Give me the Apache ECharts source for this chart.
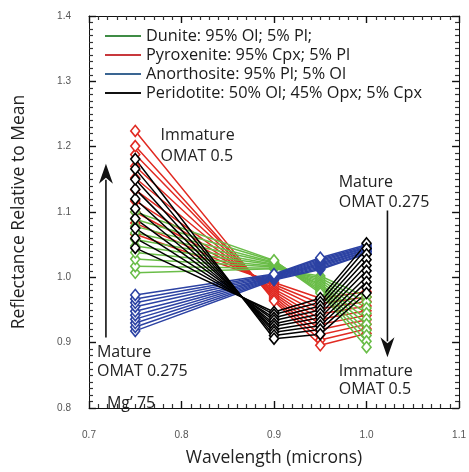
<!DOCTYPE html>
<html>
<head>
<meta charset="utf-8">
<script src="https://cdn.jsdelivr.net/npm/echarts@6/dist/echarts.min.js"></script>
<style>html,body{margin:0;padding:0;background:#fff}#c{width:469px;height:472px}</style>
</head>
<body>
<div id="c"></div>
<script>
// Wavelengths (microns) at which reflectance is sampled
var wavelengths = [0.75, 0.9, 0.95, 1.0];
// OMAT levels, mature -> immature (one line per level)
var omatLevels = [0.275, 0.3, 0.325, 0.35, 0.375, 0.4, 0.425, 0.45, 0.475, 0.5];
var xTicks = [0.7, 0.8, 0.9, 1.0, 1.1];
var yTicks = [0.8, 0.9, 1.0, 1.1, 1.2, 1.3, 1.4];
var minorPerMajor = 10;

var rockNames = [
  'Dunite: 95% Ol; 5% Pl;',
  'Pyroxenite: 95% Cpx; 5% Pl',
  'Anorthosite: 95% Pl; 5% Ol',
  'Peridotite: 50% Ol; 45% Opx; 5% Cpx'
];

// Reflectance relative to mean, rows follow omatLevels, columns follow wavelengths
var dunite = [
  [1.007, 1.013, 1.002, 0.970],
  [1.017, 1.014, 0.999, 0.962],
  [1.028, 1.016, 0.996, 0.953],
  [1.038, 1.017, 0.993, 0.945],
  [1.048, 1.019, 0.990, 0.936],
  [1.058, 1.020, 0.988, 0.928],
  [1.068, 1.022, 0.985, 0.919],
  [1.078, 1.023, 0.982, 0.911],
  [1.089, 1.025, 0.979, 0.902],
  [1.100, 1.026, 0.976, 0.893]
];
var pyroxenite = [
  [1.066, 0.992, 0.968, 0.978],
  [1.083, 0.989, 0.960, 0.970],
  [1.100, 0.986, 0.952, 0.963],
  [1.117, 0.982, 0.944, 0.956],
  [1.134, 0.979, 0.936, 0.949],
  [1.152, 0.976, 0.928, 0.942],
  [1.170, 0.973, 0.920, 0.935],
  [1.188, 0.970, 0.912, 0.928],
  [1.201, 0.967, 0.904, 0.921],
  [1.224, 0.964, 0.896, 0.914]
];
var anorthosite = [
  [0.918, 0.996, 1.012, 1.036],
  [0.924, 0.997, 1.014, 1.037],
  [0.930, 0.998, 1.016, 1.039],
  [0.936, 0.999, 1.018, 1.040],
  [0.942, 1.000, 1.020, 1.042],
  [0.948, 1.001, 1.022, 1.043],
  [0.955, 1.002, 1.024, 1.045],
  [0.961, 1.003, 1.026, 1.046],
  [0.967, 1.004, 1.028, 1.048],
  [0.973, 1.005, 1.030, 1.050]
];
var peridotite = [
  [1.045, 0.947, 0.968, 1.052],
  [1.060, 0.943, 0.962, 1.044],
  [1.075, 0.938, 0.956, 1.035],
  [1.090, 0.934, 0.950, 1.027],
  [1.105, 0.929, 0.944, 1.018],
  [1.120, 0.925, 0.938, 1.010],
  [1.135, 0.920, 0.932, 1.001],
  [1.150, 0.916, 0.926, 0.993],
  [1.166, 0.911, 0.920, 0.984],
  [1.181, 0.906, 0.913, 0.976]
];

// Annotation texts and their anchor positions in data units
var notes = [
  {text: 'Immature', x: 0.7774, y: 1.2178},
  {text: 'OMAT 0.5', x: 0.7774, y: 1.1844},
  {text: 'Mature', x: 0.9699, y: 1.1449},
  {text: 'OMAT 0.275', x: 0.9699, y: 1.1145},
  {text: 'Mature', x: 0.7086, y: 0.8851},
  {text: 'OMAT 0.275', x: 0.7086, y: 0.8563},
  {text: 'Mg\u2019 75', x: 0.7194, y: 0.8070},
  {text: 'Immature', x: 0.9699, y: 0.8563},
  {text: 'OMAT 0.5', x: 0.9699, y: 0.8289}
];
var arrows = [
  {x: 0.7183, from: 0.9078, to: 1.1737},
  {x: 1.0226, from: 1.1023, to: 0.8775}
];

var lineColors = ['#6abd48', '#e12a22', '#2c42a3', '#000000'];
var legendColors = ['#3f8c45', '#c8383c', '#3a6592', '#111111'];

var chart = echarts.init(document.getElementById('c'));

function buildSeries(name, rows, color) {
  return rows.map(function (row) {
    return {
      name: name,
      type: 'line',
      data: row.map(function (v, i) { return [wavelengths[i], v]; }),
      symbol: 'diamond',
      symbolSize: [9, 11],
      showSymbol: true,
      lineStyle: {color: color, width: 1.5},
      itemStyle: {color: '#ffffff', borderColor: color, borderWidth: 1.6},
      emphasis: {disabled: true},
      silent: true,
      animation: false
    };
  });
}

var series = [].concat(
  buildSeries(rockNames[1], pyroxenite, lineColors[1]),
  buildSeries(rockNames[0], dunite, lineColors[0]),
  buildSeries(rockNames[2], anorthosite, lineColors[2]),
  buildSeries(rockNames[3], peridotite, lineColors[3])
);

var fontMain = '"Open Sans", "Noto Sans", sans-serif';
var tickFontFamily = '"Liberation Sans", Arial, sans-serif';

function makeAxis(pos, lo, hi, extra) {
  var ax = {
    type: 'value',
    position: pos,
    min: lo,
    max: hi,
    interval: 0.1,
    axisLine: {show: true, onZero: false, lineStyle: {color: '#111', width: 1}},
    axisTick: {show: true, inside: true, length: 7, lineStyle: {color: '#111', width: 1.4}},
    minorTick: {show: true, splitNumber: minorPerMajor, length: 4, lineStyle: {color: '#333', width: 1.2}},
    splitLine: {show: false}
  };
  for (var k in extra) ax[k] = extra[k];
  return ax;
}

var fmt = function (v) { return v.toFixed(1); };

chart.setOption({
  animation: false,
  grid: {left: 89, right: 8, top: 16, bottom: 61},
  legend: {
    orient: 'vertical',
    left: 100,
    top: 23,
    icon: 'rect',
    itemWidth: 36,
    itemHeight: 2,
    itemGap: 3,
    selectedMode: false,
    textStyle: {fontFamily: fontMain, fontSize: 16.3, color: '#1a1a1a'},
    data: rockNames.map(function (n, i) {
      return {name: n, itemStyle: {color: legendColors[i], borderWidth: 0}};
    })
  },
  xAxis: [
    makeAxis('bottom', xTicks[0], xTicks[xTicks.length - 1], {
      name: 'Wavelength (microns)', nameLocation: 'middle', nameGap: 41,
      nameTextStyle: {fontFamily: fontMain, fontSize: 17.5, color: '#222'},
      axisLabel: {show: true, margin: 22, formatter: fmt, fontFamily: tickFontFamily, fontSize: 10, color: '#555'}
    }),
    makeAxis('top', xTicks[0], xTicks[xTicks.length - 1], {axisLabel: {show: false}})
  ],
  yAxis: [
    makeAxis('left', yTicks[0], yTicks[yTicks.length - 1], {
      name: 'Reflectance Relative to Mean', nameLocation: 'middle', nameGap: 61,
      nameTextStyle: {fontFamily: fontMain, fontSize: 17.5, color: '#222'},
      axisLabel: {show: true, margin: 18, formatter: fmt, fontFamily: tickFontFamily, fontSize: 10, color: '#555'}
    }),
    makeAxis('right', yTicks[0], yTicks[yTicks.length - 1], {axisLabel: {show: false}})
  ],
  series: series
});

function px(x, y) { return chart.convertToPixel({xAxisIndex: 0, yAxisIndex: 0}, [x, y]); }

var graphics = [];

notes.forEach(function (n) {
  var p = px(n.x, n.y);
  graphics.push({
    type: 'text', silent: true, z: 100,
    x: p[0], y: p[1],
    style: {text: n.text, fontFamily: fontMain, fontSize: 16, fill: '#222', textAlign: 'left', textVerticalAlign: 'middle'}
  });
});
arrows.forEach(function (a) {
  var p0 = px(a.x, a.from), p1 = px(a.x, a.to);
  var dir = p1[1] < p0[1] ? -1 : 1; // -1 = up
  var headLen = 20, headHalf = 7;
  graphics.push({
    type: 'line', silent: true, z: 100,
    shape: {x1: p0[0], y1: p0[1], x2: p1[0], y2: p1[1] - dir * (headLen - 4)},
    style: {stroke: '#111', lineWidth: 1.6}
  });
  graphics.push({
    type: 'polygon', silent: true, z: 100,
    shape: {points: [
      [p1[0], p1[1]],
      [p1[0] - headHalf, p1[1] - dir * headLen],
      [p1[0], p1[1] - dir * (headLen - 6)],
      [p1[0] + headHalf, p1[1] - dir * headLen]
    ]},
    style: {fill: '#111'}
  });
});
chart.setOption({graphic: graphics});
</script>
</body>
</html>
